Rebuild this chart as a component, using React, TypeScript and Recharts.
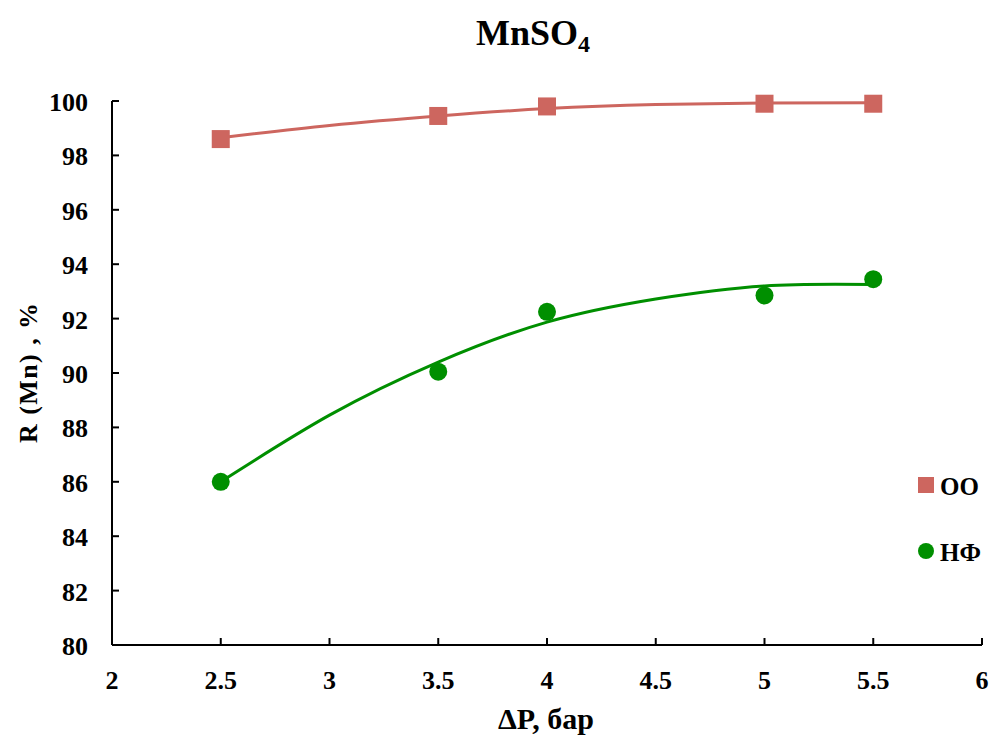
import {
  ComposedChart,
  Line,
  Scatter,
  XAxis,
  YAxis,
  Legend,
} from "recharts"

// measured points
const pressure = [2.5, 3.5, 4, 5, 5.5]
const ooValues = [98.6, 99.45, 99.8, 99.9, 99.9]
const nfValues = [86.0, 90.05, 92.25, 92.85, 93.45]

// trend curves
const trendX = [2.5, 3, 3.5, 4, 4.5, 5, 5.5]
const ooTrend = [98.65, 99.1, 99.45, 99.72, 99.87, 99.93, 99.94]
const nfTrend = [86.0, 88.45, 90.4, 91.87, 92.72, 93.2, 93.25]

const xTicks = [2, 2.5, 3, 3.5, 4, 4.5, 5, 5.5, 6]
const yTicks = [80, 82, 84, 86, 88, 90, 92, 94, 96, 98, 100]

const OO_COLOR = "#cd665f"
const NF_COLOR = "#008f00"
const FONT = "'Liberation Serif', 'Times New Roman', serif"

const ooData = pressure.map((x, i) => ({ x, y: ooValues[i] }))
const nfData = pressure.map((x, i) => ({ x, y: nfValues[i] }))
const ooTrendData = trendX.map((x, i) => ({ x, y: ooTrend[i] }))
const nfTrendData = trendX.map((x, i) => ({ x, y: nfTrend[i] }))

function YTick({ x, y, payload }: any) {
  return (
    <g>
      <line x1={x} y1={y} x2={x + 7} y2={y} stroke="#000" strokeWidth={2} />
      <text
        x={x - 24}
        y={y + 10}
        textAnchor="end"
        fontFamily={FONT}
        fontWeight="bold"
        fontSize={26}
        fill="#000"
      >
        {payload.value}
      </text>
    </g>
  )
}

function XTick({ x, y, payload }: any) {
  return (
    <g>
      <line x1={x} y1={y} x2={x} y2={y - 7} stroke="#000" strokeWidth={2} />
      <text
        x={x}
        y={y + 44}
        textAnchor="middle"
        fontFamily={FONT}
        fontWeight="bold"
        fontSize={26}
        fill="#000"
      >
        {payload.value}
      </text>
    </g>
  )
}

function XTitle({ viewBox }: any) {
  return (
    <text
      x={viewBox.x + viewBox.width / 2 - 1}
      y={729}
      textAnchor="middle"
      fontFamily={FONT}
      fontWeight="bold"
      fontSize={30}
      fill="#000"
    >
      ΔP, бар
    </text>
  )
}

function YTitle({ viewBox }: any) {
  const cy = viewBox.y + viewBox.height / 2
  return (
    <text
      x={37}
      y={cy}
      transform={`rotate(-90, 37, ${cy})`}
      textAnchor="middle"
      fontFamily={FONT}
      fontWeight="bold"
      fontSize={26}
      textLength={140}
      lengthAdjust="spacing"
      fill="#000"
    >
      R (Mn) , %
    </text>
  )
}

const Square = ({ cx, cy }: any) => (
  <rect x={cx - 9} y={cy - 9} width={18} height={18} fill={OO_COLOR} />
)
const Dot = ({ cx, cy }: any) => <circle cx={cx} cy={cy} r={9} fill={NF_COLOR} />

function LegendBox({ payload }: any) {
  const items = (payload || []).filter(
    (p: any) => p.type === "square" || p.type === "circle"
  )
  return (
    <div style={{ fontFamily: FONT, fontWeight: "bold", fontSize: 25 }}>
      {items.map((p: any) => (
        <div
          key={p.value}
          style={{ display: "flex", alignItems: "center", height: 32, marginBottom: 34 }}
        >
          <svg width={20} height={20} style={{ marginRight: 4 }}>
            {p.type === "square" ? (
              <rect x={2} y={2} width={16} height={16} fill={p.color} />
            ) : (
              <circle cx={10} cy={10} r={8} fill={p.color} />
            )}
          </svg>
          <span style={{ position: "relative", top: 2 }}>{p.value}</span>
        </div>
      ))}
    </div>
  )
}

export default function App() {
  return (
    <div style={{ position: "absolute", left: 0, top: 0, width: 992, height: 738, background: "#fff" }}>
      <div
        style={{
          position: "absolute",
          left: 476,
          top: 15,
          fontFamily: FONT,
          fontWeight: "bold",
          fontSize: 36,
          lineHeight: "36px",
          whiteSpace: "nowrap",
          zIndex: 2,
        }}
      >
        MnSO<span style={{ fontSize: 24, position: "relative", top: 7 }}>4</span>
      </div>
      <ComposedChart
        width={992}
        height={738}
        margin={{ top: 101, right: 10, bottom: 63, left: 0 }}
      >
        <XAxis
          dataKey="x"
          type="number"
          domain={[2, 6]}
          ticks={xTicks}
          interval={0}
          height={30}
          tickSize={0}
          tickMargin={0}
          tick={<XTick />}
          axisLine={{ stroke: "#000", strokeWidth: 2 }}
          tickLine={false}
          allowDecimals
          label={<XTitle />}
        />
        <YAxis
          dataKey="y"
          type="number"
          domain={[80, 100]}
          ticks={yTicks}
          interval={0}
          width={112}
          tickSize={0}
          tickMargin={0}
          tick={<YTick />}
          axisLine={{ stroke: "#000", strokeWidth: 2 }}
          tickLine={false}
          label={<YTitle />}
        />
        <Legend
          content={<LegendBox />}
          layout="horizontal"
          verticalAlign="middle"
          align="center"
          wrapperStyle={{ position: "absolute", left: 916, top: 469, width: 80, height: 120 }}
        />
        <Line
          data={ooTrendData}
          dataKey="y"
          type="natural"
          stroke={OO_COLOR}
          strokeWidth={3}
          dot={false}
          activeDot={false}
          legendType="none"
          isAnimationActive={false}
        />
        <Line
          data={nfTrendData}
          dataKey="y"
          type="natural"
          stroke={NF_COLOR}
          strokeWidth={3}
          dot={false}
          activeDot={false}
          legendType="none"
          isAnimationActive={false}
        />
        <Scatter
          name="OO"
          data={ooData}
          fill={OO_COLOR}
          legendType="square"
          shape={<Square />}
          isAnimationActive={false}
        />
        <Scatter
          name="НФ"
          data={nfData}
          fill={NF_COLOR}
          legendType="circle"
          shape={<Dot />}
          isAnimationActive={false}
        />
      </ComposedChart>
    </div>
  )
}
